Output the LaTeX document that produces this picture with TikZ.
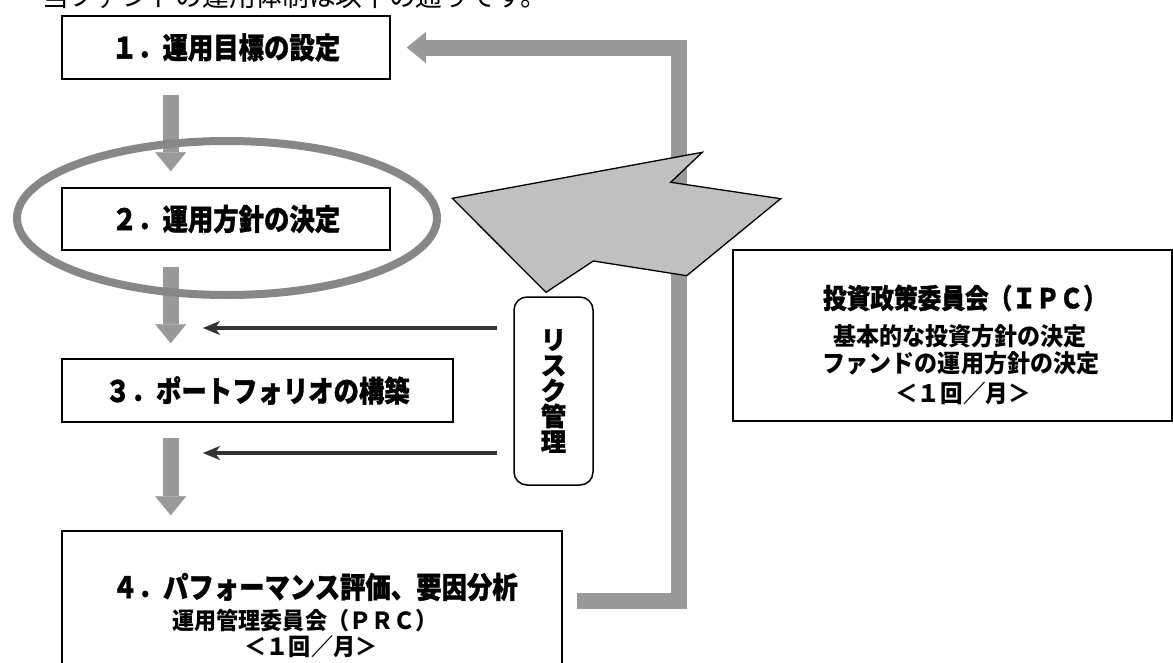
\documentclass[tikz,border=0pt]{standalone}
\usepackage{graphicx}
\usepackage{fontspec}
\setmainfont{Noto Sans CJK JP}[BoldFeatures={FakeBold=1.2}]
\newfontfamily\jpsemi{Noto Sans CJK JP}
\usetikzlibrary{arrows.meta}
\definecolor{garrowc}{HTML}{999999}
\definecolor{ringc}{HTML}{878787}
\definecolor{calloutc}{HTML}{C0C0C0}
\definecolor{darkc}{HTML}{333333}
\newcommand{\narrow}[1]{\scalebox{0.86}[1]{#1}}
\newcommand{\semiw}[1]{\scalebox{0.94}[1]{#1}}
\begin{document}
\begin{tikzpicture}[x=1pt,y=-1pt,
  box/.style={draw,line width=1.6pt,rectangle,inner sep=0pt,fill=white},
  boxlabel/.style={font=\fontsize{29.5}{32}\selectfont\bfseries},
  subtext/.style={font=\fontsize{23.5}{26}\selectfont\jpsemi\bfseries},
  garrow/.style={draw=garrowc,line width=16pt,line join=miter,
    -{Triangle[width=31pt,length=19pt,line width=0.1pt]}},
  darrow/.style={draw=darkc,line width=4pt,
    -{Stealth[length=17pt,width=14pt,inset=5pt,line width=0.1pt]}},
  riskbox/.style={draw,line width=1.5pt,rounded corners=13pt,inner sep=0pt,fill=white}]
\useasboundingbox (0,0) rectangle (1173,662);

% header (partly cut off at top)
\node[anchor=base west,inner sep=0pt,font=\fontsize{26.7}{30}\selectfont] (hdr) at (42,6) {当ファンドの運用体制は以下の通りです。};

% boxes
\node[box,boxlabel,minimum width=328pt,minimum height=63pt] (b1) at (226,47.5) {\narrow{１．運用目標の設定}};
\node[box,boxlabel,minimum width=328pt,minimum height=62pt] (b2) at (226,219) {\narrow{２．運用方針の決定}};
\node[box,boxlabel,minimum width=391pt,minimum height=63pt] (b3) at (257.5,390.5) {\narrow{３．ポートフォリオの構築}};
\node[box,minimum width=500pt,minimum height=140pt] (b4) at (312,601) {};
\node[boxlabel,inner sep=0pt] (b4a) at (315,587) {\narrow{４．パフォーマンス評価、要因分析}};
\node[subtext,inner sep=0pt] (b4b) at (305,621) {\semiw{運用管理委員会（ＰＲＣ）}};
\node[subtext,inner sep=0pt] (b4c) at (311,647) {\semiw{＜１回／月＞}};

% IPC box
\node[box,minimum width=439pt,minimum height=171pt] (ipc) at (952.5,335.5) {};
\node[inner sep=0pt,font=\fontsize{27.5}{30}\selectfont\bfseries] (ipca) at (965,298) {\narrow{投資政策委員会（ＩＰＣ）}};
\node[subtext,inner sep=0pt,font=\fontsize{24.5}{26}\selectfont\jpsemi\bfseries] (ipcb) at (960,336) {\semiw{基本的な投資方針の決定}};
\node[subtext,inner sep=0pt,font=\fontsize{24.5}{26}\selectfont\jpsemi\bfseries] (ipcc) at (961,363) {\semiw{ファンドの運用方針の決定}};
\node[subtext,inner sep=0pt,font=\fontsize{24}{26}\selectfont\jpsemi\bfseries] (ipcd) at (963,393) {\semiw{＜１回／月＞}};

% risk box
\node[riskbox,minimum width=79pt,minimum height=188pt,align=center,
  font=\fontsize{25.5}{25.5}\selectfont\bfseries] (risk) at (553.5,391) {リ\\ス\\ク\\管\\理};

% gray flow arrows
\draw[garrow,shorten <=15pt,shorten >=16pt] ([xshift=109.5pt]b1.south west) -- ([xshift=109.5pt]b2.north west);
\draw[garrow,shorten <=16pt,shorten >=15pt] ([xshift=109.5pt]b2.south west) -- ([xshift=109.5pt]b3.north west);
\draw[garrow,shorten <=15pt,shorten >=15pt] ([xshift=109.5pt]b3.south west) -- ([xshift=109.5pt]b4.north west);

% dark arrows from risk management
\coordinate (t1) at (203,328);
\coordinate (t2) at (203,453);
\draw[darrow,shorten <=16pt] (risk.west |- t1) -- (t1);
\draw[darrow,shorten <=16pt] (risk.west |- t2) -- (t2);

% highlight ring around box 2
\draw[ringc,line width=8pt] (227,218) ellipse [x radius=210pt,y radius=77pt];

% feedback loop
\coordinate (ls) at (577,601);
\draw[garrow,shorten >=16pt] (ls) -- (679,601) -- (679,47.5) -- (b1.east);

% callout arrow shape
\filldraw[fill=calloutc,draw=black,line width=1.3pt,line join=miter]
  (452.3,198.3) -- (702.3,152.3) -- (670.7,182.3) -- (780.7,198.7)
  -- (686.7,275.7) -- (593.3,261) -- (546,292.3) -- cycle;
\end{tikzpicture}
\end{document}
